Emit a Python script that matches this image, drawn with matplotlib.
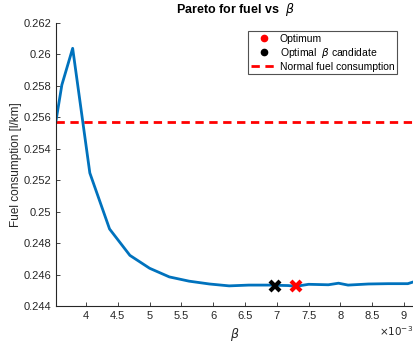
import matplotlib
matplotlib.use("Agg")
import matplotlib.pyplot as plt
from matplotlib.ticker import FuncFormatter
from matplotlib.lines import Line2D

beta = [3.53e-3, 3.62e-3, 3.79e-3, 4.06e-3, 4.37e-3, 4.69e-3, 5.00e-3, 5.31e-3,
        5.62e-3, 5.94e-3, 6.25e-3, 6.56e-3, 6.87e-3, 7.18e-3, 7.30e-3, 7.50e-3,
        7.81e-3, 7.97e-3, 8.12e-3, 8.44e-3, 8.75e-3, 9.06e-3, 9.20e-3]
fuel = [0.25583, 0.25806, 0.26039, 0.25246, 0.24890, 0.24722, 0.24640, 0.24585,
        0.24558, 0.24540, 0.24528, 0.24533, 0.24533, 0.24530, 0.24525, 0.24538,
        0.24535, 0.24545, 0.24533, 0.24540, 0.24542, 0.24542, 0.24560]
opt_beta, opt_fuel = 7.30e-3, 0.24525
cand_beta, cand_fuel = 6.97e-3, 0.24530
normal_fuel = 0.25568
xticks = [4e-3, 4.5e-3, 5e-3, 5.5e-3, 6e-3, 6.5e-3, 7e-3, 7.5e-3, 8e-3, 8.5e-3, 9e-3]
yticks = [0.244, 0.246, 0.248, 0.25, 0.252, 0.254, 0.256, 0.258, 0.26, 0.262]

plt.rcParams['font.family'] = ['Liberation Sans', 'DejaVu Sans']
fig = plt.figure(figsize=(4.14, 3.44), dpi=100)
ax = fig.add_axes([56/414, 1-306/344, 1-56/414, (306-23)/344])

ax.plot(beta, fuel, color='#0072BD', lw=2, zorder=2)
ax.axhline(normal_fuel, color='red', ls=(0, (3, 2)), lw=2, zorder=1)
ax.plot([opt_beta], [opt_fuel], 'x', color='red', ms=7, mew=3, zorder=3)
ax.plot([cand_beta], [cand_fuel], 'x', color='black', ms=7, mew=3, zorder=3)

ax.set_xlim(3.528e-3, 9.157e-3)
ax.set_ylim(0.244, 0.262)
ax.set_xticks(xticks)
ax.set_yticks(yticks)
ax.xaxis.set_major_formatter(FuncFormatter(lambda v, p: f"{v*1e3:g}"))
ax.yaxis.set_major_formatter(FuncFormatter(lambda v, p: f"{v:g}"))
ax.tick_params(direction='in', length=3, labelsize=8, colors='#262626', width=0.6)
for s in ['top', 'right']:
    ax.spines[s].set_visible(False)
for s in ['left', 'bottom']:
    ax.spines[s].set_color('#262626')
    ax.spines[s].set_linewidth(0.8)

ax.set_title(r'Pareto for fuel vs  $\beta$', fontsize=9, fontweight='bold', pad=7)
ax.set_xlabel(r'$\beta$', fontsize=9, color='#262626', labelpad=4)
ax.set_ylabel('Fuel consumption [l/km]', fontsize=8.5, color='#262626', labelpad=1)
fig.text(413/414, 1-331/344, r'$\times10^{-3}$', fontsize=7.5, color='#262626', va='center', ha='right')

handles = [
    Line2D([], [], ls='none', marker='o', color='red', ms=4.5),
    Line2D([], [], ls='none', marker='o', color='black', ms=4.5),
    Line2D([], [], color='red', ls=(0, (3, 2)), lw=2),
]
labels = ['Optimum', r'Optimal  $\beta$ candidate', 'Normal fuel consumption']
leg = ax.legend(handles, labels, loc='upper right', bbox_to_anchor=(397/414, 1-31/344),
                bbox_transform=fig.transFigure, fontsize=7.5, frameon=True, fancybox=False,
                edgecolor='#262626', handlelength=2.6, handletextpad=0.2, borderpad=0.25,
                labelspacing=0.2, borderaxespad=0)
leg.get_frame().set_linewidth(0.8)

fig.savefig('out.png', dpi=100)
